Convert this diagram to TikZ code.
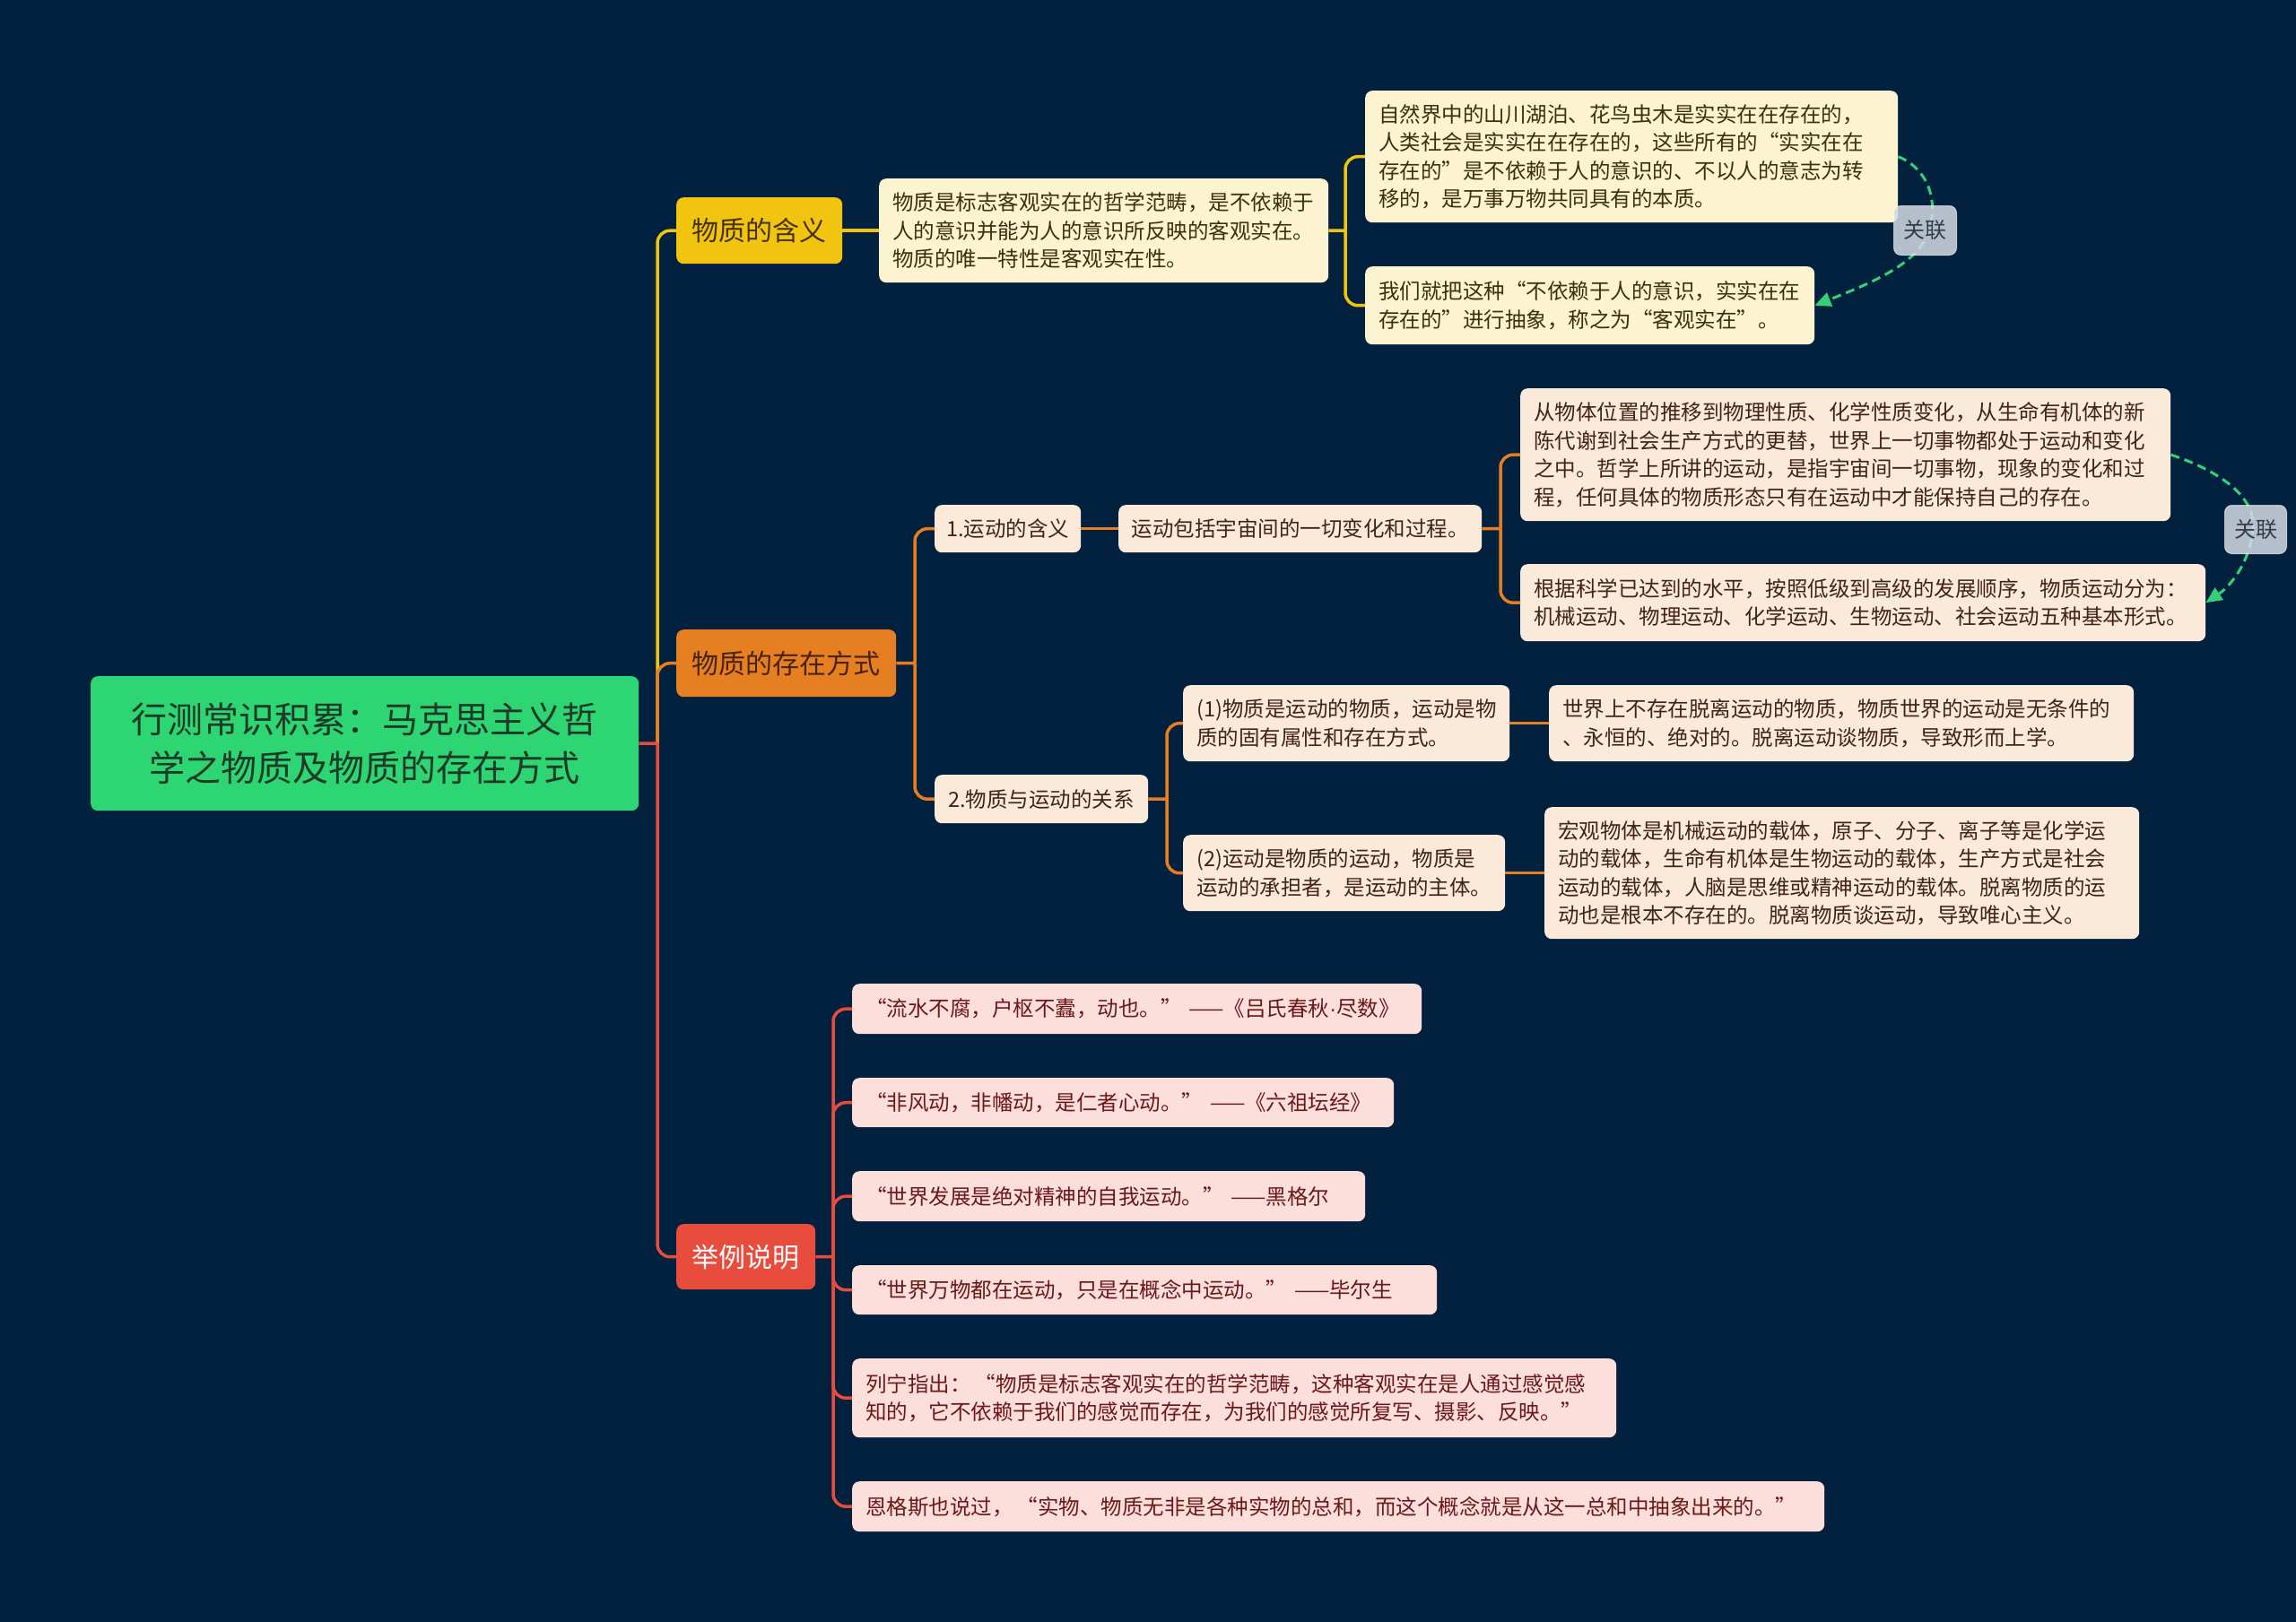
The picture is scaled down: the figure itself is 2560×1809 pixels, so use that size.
\documentclass[tikz,border=0pt]{standalone}
\usepackage{fontspec}
\setmainfont{Noto Sans CJK SC}
\newfontfamily\latinf{Liberation Sans}
\usetikzlibrary{arrows.meta}
\definecolor{bg}{RGB}{2,33,63}
\definecolor{rootfill}{RGB}{46,213,115}
\definecolor{roottext}{RGB}{28,58,40}
\definecolor{yel}{RGB}{241,196,15}
\definecolor{yeltext}{RGB}{70,50,10}
\definecolor{cream}{RGB}{252,243,208}
\definecolor{creamtext}{RGB}{62,46,16}
\definecolor{ora}{RGB}{230,126,34}
\definecolor{oratext}{RGB}{72,36,14}
\definecolor{peach}{RGB}{251,233,217}
\definecolor{peachtext}{RGB}{66,36,20}
\definecolor{red1}{RGB}{231,76,60}
\definecolor{pink}{RGB}{252,223,219}
\definecolor{pinktext}{RGB}{108,24,24}
\definecolor{labfill}{RGB}{213,219,228}
\definecolor{labtext}{RGB}{50,60,75}
\definecolor{relgreen}{RGB}{52,208,120}
\tikzset{
  base/.style={anchor=north west, rounded corners=8pt, inner sep=0pt, align=left,
    font=\fontsize{23.5}{31.5}\selectfont},
  padded/.style={inner xsep=15pt, inner ysep=0pt},
  rootbox/.style={base, fill=rootfill, text=roottext, align=center,
    font=\fontsize{40}{54}\selectfont},
  lone/.style={base, font=\fontsize{30}{38}\selectfont},
  yelbox/.style={lone, fill=yel, text=yeltext},
  orabox/.style={lone, fill=ora, text=oratext},
  redbox/.style={lone, fill=red1, text=white},
  creambox/.style={base, padded, fill=cream, text=creamtext},
  peachbox/.style={base, fill=peach, text=peachtext},
  peachtxt/.style={base, padded, fill=peach, text=peachtext},
  pinkbox/.style={base, padded, fill=pink, text=pinktext},
  labbox/.style={base, fill=labfill, fill opacity=0.85, text opacity=1, text=labtext,
    align=center, font=\fontsize{24}{30}\selectfont, draw=white, draw opacity=0.6, line width=1pt},
  conn/.style={line width=3.5pt, rounded corners=14pt},
  cy/.style={conn, draw=yel},
  co/.style={conn, draw=ora},
  cr/.style={conn, draw=red1},
  rel/.style={draw=relgreen, line width=3pt, dash pattern=on 10pt off 6pt,
    -{Triangle[length=18pt,width=16pt]}}
}
\begin{document}
\begin{tikzpicture}[x=1pt,y=-1pt]
\fill[bg] (0,0) rectangle (2560,1809);
\useasboundingbox (0,0) rectangle (2560,1809);

% main nodes
\node[rootbox, minimum width=611pt, minimum height=150pt] (root) at (101,754)
  {行测常识积累：马克思主义哲\\学之物质及物质的存在方式};
\node[yelbox, minimum width=185pt, minimum height=74pt] (m1) at (754,220) {物质的含义};
\node[orabox, minimum width=245pt, minimum height=75pt] (m2) at (754,702) {物质的存在方式};
\node[redbox, minimum width=155pt, minimum height=73pt] (m3) at (754,1365) {举例说明};

% branch 1
\node[creambox, text width=471pt, minimum height=116pt] (A) at (980,199)
  {物质是标志客观实在的哲学范畴，是不依赖于\\人的意识并能为人的意识所反映的客观实在。\\物质的唯一特性是客观实在性。};
\node[creambox, text width=564pt, minimum height=147pt] (B) at (1522,101)
  {自然界中的山川湖泊、花鸟虫木是实实在在存在的，\\人类社会是实实在在存在的，这些所有的“实实在在\\存在的”是不依赖于人的意识的、不以人的意志为转\\移的，是万事万物共同具有的本质。};
\node[creambox, text width=471pt, minimum height=87pt] (C) at (1522,297)
  {我们就把这种“不依赖于人的意识，实实在在\\存在的”进行抽象，称之为“客观实在”。};

% branch 2
\node[peachbox, minimum width=163pt, minimum height=53pt] (n1) at (1042,563) {1.运动的含义};
\node[peachbox, minimum width=405pt, minimum height=53pt] (n1a) at (1247,563) {运动包括宇宙间的一切变化和过程。};
\node[peachtxt, text width=695pt, minimum height=148pt] (D) at (1695,433)
  {从物体位置的推移到物理性质、化学性质变化，从生命有机体的新\\陈代谢到社会生产方式的更替，世界上一切事物都处于运动和变化\\之中。哲学上所讲的运动，是指宇宙间一切事物，现象的变化和过\\程，任何具体的物质形态只有在运动中才能保持自己的存在。};
\node[peachtxt, text width=734pt, minimum height=86pt] (E) at (1695,629)
  {根据科学已达到的水平，按照低级到高级的发展顺序，物质运动分为：\\机械运动、物理运动、化学运动、生物运动、社会运动五种基本形式。};

\node[peachbox, minimum width=238pt, minimum height=54pt] (n2) at (1042,864) {2.物质与运动的关系};
\node[peachtxt, text width=334pt, minimum height=85pt] (F) at (1319,764)
  {(1)物质是运动的物质，运动是物\\质的固有属性和存在方式。};
\node[peachtxt, text width=622pt, minimum height=85pt] (G) at (1727,764)
  {世界上不存在脱离运动的物质，物质世界的运动是无条件的\\、永恒的、绝对的。脱离运动谈物质，导致形而上学。};
\node[peachtxt, text width=329pt, minimum height=85pt] (H) at (1319,931)
  {(2)运动是物质的运动，物质是\\运动的承担者，是运动的主体。};
\node[peachtxt, text width=633pt, minimum height=147pt] (I) at (1722,900)
  {宏观物体是机械运动的载体，原子、分子、离子等是化学运\\动的载体，生命有机体是生物运动的载体，生产方式是社会\\运动的载体，人脑是思维或精神运动的载体。脱离物质的运\\动也是根本不存在的。脱离物质谈运动，导致唯心主义。};

% branch 3
\node[pinkbox, text width=605pt, minimum height=56pt] (Q1) at (950,1097)
  {“流水不腐，户枢不蠹，动也。”~——《吕氏春秋{\latinf ·}尽数》};
\node[pinkbox, text width=574pt, minimum height=55pt] (Q2) at (950,1202)
  {“非风动，非幡动，是仁者心动。”~——《六祖坛经》};
\node[pinkbox, text width=542pt, minimum height=56pt] (Q3) at (950,1306)
  {“世界发展是绝对精神的自我运动。”~——黑格尔};
\node[pinkbox, text width=622pt, minimum height=55pt] (Q4) at (950,1411)
  {“世界万物都在运动，只是在概念中运动。”~——毕尔生};
\node[pinkbox, text width=822pt, minimum height=88pt] (Q5) at (950,1515)
  {列宁指出：\,“物质是标志客观实在的哲学范畴，这种客观实在是人通过感觉感\\知的，它不依赖于我们的感觉而存在，为我们的感觉所复写、摄影、反映。”};
\node[pinkbox, text width=1054pt, minimum height=56pt] (Q6) at (950,1652)
  {恩格斯也说过，\,“实物、物质无非是各种实物的总和，而这个概念就是从这一总和中抽象出来的。”};

% junction coordinates
\coordinate (jr) at (733,829);
\coordinate (jA) at (1500,257);
\coordinate (j2) at (1020,739.5);
\coordinate (j1a) at (1673,589.5);
\coordinate (jn2) at (1301,891);
\coordinate (j3) at (929,1401.5);

% connectors
\draw[cy] (jr) |- (m1.west);
\draw[co] (jr) |- (m2.west);
\draw[cr] (jr) |- (m3.west);
\draw[cr] (root.east) -- (jr);

\draw[cy] (m1.east) -- (A.west);
\draw[cy] (A.east) -- (jA);
\draw[cy] (jA) |- (B.west);
\draw[cy] (jA) |- (C.west);

\draw[co] (m2.east) -- (j2);
\draw[co] (j2) |- (n1.west);
\draw[co] (j2) |- (n2.west);
\draw[co] (n1.east) -- (n1a.west);
\draw[co] (n1a.east) -- (j1a);
\draw[co] (j1a) |- (D.west);
\draw[co] (j1a) |- (E.west);
\draw[co] (n2.east) -- (jn2);
\draw[co] (jn2) |- (F.west);
\draw[co] (jn2) |- (H.west);
\draw[co] (F.east) -- (G.west);
\draw[co] (H.east) -- (I.west);

\draw[cr] (m3.east) -- (j3);
\foreach \q in {Q1,Q2,Q3,Q4,Q5,Q6} { \draw[cr] (j3) |- (\q.west); }

% relation curves
\coordinate (r1) at (2150,258);
\draw[rel] (B.east) .. controls (2150,188) and (2162,225) .. (r1)
  .. controls (2140,295) and (2080,318) .. (C.east);
\coordinate (r2) at (2512,590);
\draw[rel] (D.east) .. controls (2475,525) and (2516,555) .. (r2)
  .. controls (2508,630) and (2485,655) .. (E.east);
\node[labbox, minimum width=70pt, minimum height=55pt] (lab1) at (2111,229) {关联};
\node[labbox, minimum width=69pt, minimum height=54pt] (lab2) at (2480,563) {关联};
\end{tikzpicture}
\end{document}
